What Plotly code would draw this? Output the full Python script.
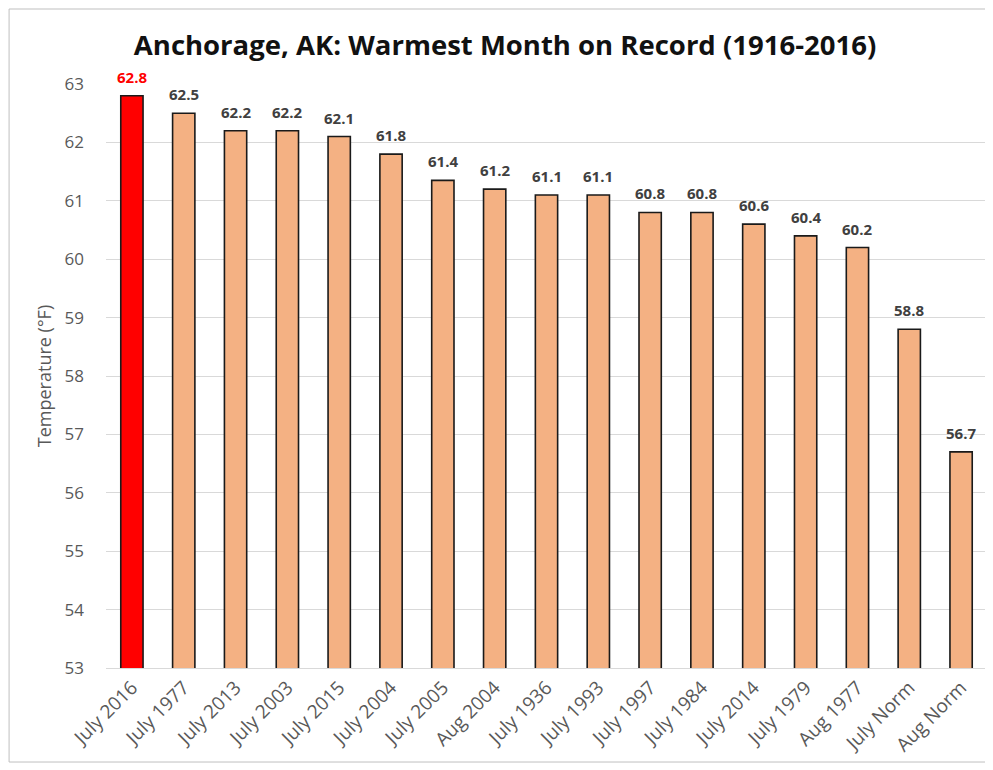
import plotly.graph_objects as go

categories = ["July 2016", "July 1977", "July 2013", "July 2003", "July 2015", "July 2004",
              "July 2005", "Aug 2004", "July 1936", "July 1993", "July 1997", "July 1984",
              "July 2014", "July 1979", "Aug 1977", "July Norm", "Aug Norm"]
values = [62.8, 62.5, 62.2, 62.2, 62.1, 61.8, 61.35, 61.2, 61.1, 61.1, 60.8, 60.8,
          60.6, 60.4, 60.2, 58.8, 56.7]
labels = ["62.8", "62.5", "62.2", "62.2", "62.1", "61.8", "61.4", "61.2", "61.1", "61.1",
          "60.8", "60.8", "60.6", "60.4", "60.2", "58.8", "56.7"]
y_ticks = [53, 54, 55, 56, 57, 58, 59, 60, 61, 62, 63]

bar_colors = ["#FF0000"] + ["#F4B183"] * (len(categories) - 1)
label_colors = ["#FF0000"] + ["#404040"] * (len(categories) - 1)

fig = go.Figure()
fig.add_trace(go.Bar(
    x=categories, y=values,
    marker=dict(color=bar_colors, line=dict(color="#1a1a1a", width=1.6)),
    width=0.43, hoverinfo="x+y",
))

for cat, val, lab, col in zip(categories, values, labels, label_colors):
    fig.add_annotation(x=cat, y=val, text="<b>" + lab + "</b>", showarrow=False,
                       xanchor="center", yanchor="bottom", yshift=7,
                       font=dict(family="Open Sans", size=15, color=col))

fig.update_layout(
    width=985, height=762,
    margin=dict(l=98, r=6, t=76, b=102),
    paper_bgcolor="white", plot_bgcolor="white",
    title=dict(text="<b>Anchorage, AK: Warmest Month on Record (1916-2016)</b>",
               x=0.5046, xanchor="center", y=0.951, yanchor="middle",
               font=dict(family="Open Sans", size=27.5, color="#111111")),
    showlegend=False,
    xaxis=dict(tickangle=-45, tickfont=dict(family="Open Sans", size=19, color="#595959"),
               showgrid=False, showline=True, linecolor="#D9D9D9", ticks=""),
    yaxis=dict(range=[53, 63], tickvals=y_ticks, showgrid=True, gridcolor="#D9D9D9",
               tickfont=dict(family="Open Sans", size=17, color="#595959"),
               ticklabelstandoff=21,
               title=dict(text="Temperature (°F)", standoff=8,
                          font=dict(family="Open Sans", size=18, color="#595959")),
               zeroline=False, ticks=""),
)

fig.add_shape(type="rect", xref="paper", yref="paper",
              x0=-0.110, x1=1.0023, y0=-0.161, y1=1.1284,
              line=dict(color="#BFBFBF", width=1), layer="below")

fig.write_html("out.html")
